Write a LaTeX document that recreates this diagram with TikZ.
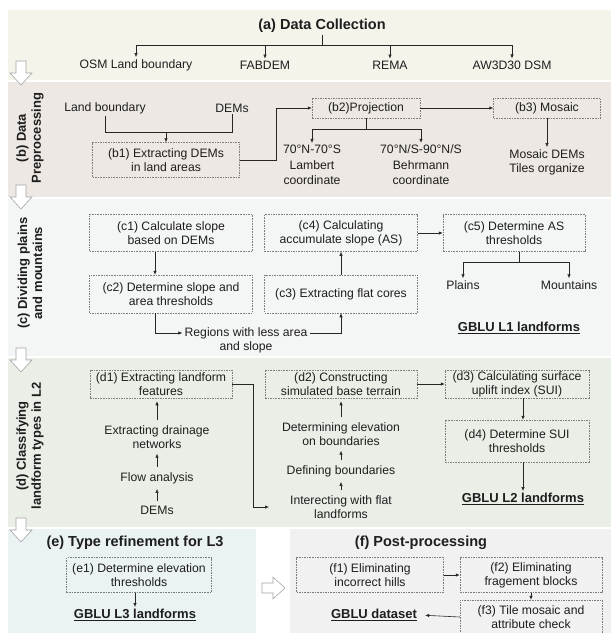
\documentclass[tikz,border=0pt]{standalone}
\usepackage{fontspec}
\setmainfont{Liberation Sans}
\usetikzlibrary{arrows.meta}
\definecolor{bandA}{RGB}{245,244,234}
\definecolor{bandB}{RGB}{237,232,227}
\definecolor{bandC}{RGB}{244,245,245}
\definecolor{bandD}{RGB}{233,239,231}
\definecolor{bandE}{RGB}{235,242,243}
\definecolor{bandF}{RGB}{241,241,241}
\definecolor{boxline}{RGB}{125,125,125}
\definecolor{txtc}{RGB}{30,30,30}
\definecolor{holl}{RGB}{165,165,165}
\newcommand\myfn{\fontsize{12.2}{14}\selectfont}
\newcommand\myft{\fontsize{14.5}{17}\selectfont\bfseries}
\newcommand\myfl{\fontsize{13}{15}\selectfont\bfseries}
\newcommand\myfg{\fontsize{13}{15}\selectfont\bfseries}
\tikzset{
  dbox/.style={draw=boxline, dash pattern=on 1.6pt off 1pt, line width=0.5pt, align=center, font=\myfn, text=txtc, inner sep=0pt},
  txt/.style={align=center, font=\myfn, text=txtc, inner sep=2pt},
  ttl/.style={align=center, font=\myft, text=txtc, inner sep=2pt},
  side/.style={align=center, font=\myfl, text=txtc, rotate=90, inner sep=0pt},
  gblu/.style={align=center, font=\myfg, text=txtc, inner sep=2pt},
  arr/.style={-{Latex[length=4pt,width=3.4pt]}, line width=0.6pt, draw=black!85},
  ln/.style={line width=0.6pt, draw=black!85},
  sarr/.style={arr, shorten <=3pt, shorten >=3pt},
  hol/.style={fill=white, draw=holl, line width=0.6pt, line join=miter}
}
\begin{document}
\begin{tikzpicture}[x=1pt,y=-1pt]
\useasboundingbox (0,0) rectangle (611,633);
\clip (0,0) rectangle (611,633);
% bands
\fill[bandA] (8,10) rectangle (611,80);
\fill[bandB] (8,82) rectangle (611,197);
\fill[bandC] (8,199) rectangle (611,356);
\fill[bandD] (8,358) rectangle (611,527);
\fill[bandE] (8,529) rectangle (256,633);
\fill[bandF] (290,529) rectangle (611,633);
% hollow arrows
\draw[hol] (16,61) -- (26,61) -- (26,73) -- (32,73) -- (21,85) -- (10,73) -- (16,73) -- cycle;
\draw[hol] (16,185) -- (26,185) -- (26,197) -- (32,197) -- (21,209) -- (10,197) -- (16,197) -- cycle;
\draw[hol] (16,348) -- (26,348) -- (26,360) -- (32,360) -- (21,372) -- (10,360) -- (16,360) -- cycle;
\draw[hol] (16,518) -- (26,518) -- (26,530) -- (32,530) -- (21,542) -- (10,530) -- (16,530) -- cycle;
\draw[hol] (262,583) -- (273,583) -- (273,577) -- (285,588) -- (273,599) -- (273,593) -- (262,593) -- cycle;

% (a)
\node[ttl] (ta) at (322,26) {(a) Data Collection};
\node[txt] (a1) at (136,65) {OSM Land boundary};
\node[txt] (a2) at (265,65) {FABDEM};
\node[txt] (a3) at (390,65) {REMA};
\node[txt] (a4) at (512,65) {AW3D30 DSM};
\coordinate (aj) at (322,45);
\draw[ln] (ta.south) -- (aj);
\draw[ln] (a1.north |- aj) -- (a4.north |- aj);
\foreach \n in {a1,a2,a3,a4} \draw[arr] (\n.north |- aj) -- (\n.north);

% (b)
\node[side] (lb) at (30,138) {(b) Data\\Preprocessing};
\node[txt] (lbd) at (105,108) {Land boundary};
\node[txt] (dem) at (232,108) {DEMs};
\node[dbox, minimum width=147, minimum height=35] (b1) at (166,160) {(b1) Extracting DEMs\\in land areas};
\node[dbox, minimum width=108, minimum height=20] (b2) at (366,108) {(b2)Projection};
\node[dbox, minimum width=107, minimum height=20] (b3) at (547,108) {(b3) Mosaic};
\coordinate (bj) at (166,132);
\draw[ln] (lbd.south) |- (dem.south |- bj) -- (dem.south);
\draw[arr] (bj) -- (b1.north);
\draw[arr] (b1.east) -- ++(37,0) |- (b2.west);
\draw[arr] (b2.east) -- (b3.west);
\node[txt, font=\fontsize{12.2}{15.5}\selectfont] (lam) at (312,165) {70°N-70°S\\Lambert\\coordinate};
\node[txt, font=\fontsize{12.2}{15.5}\selectfont] (beh) at (421,165) {70°N/S-90°N/S\\Behrmann\\coordinate};
\coordinate (bj2) at (366,129);
\draw[ln] (b2.south) -- (bj2);
\draw[ln] (lam.north |- bj2) -- (beh.north |- bj2);
\draw[arr] (lam.north |- bj2) -- (lam.north);
\draw[arr] (beh.north |- bj2) -- (beh.north);
\node[txt] (mos) at (547,162) {Mosaic DEMs\\Tiles organize};
\draw[arr] (b3.south) -- (b3.south |- mos.north);

% (c)
\node[side] (lc) at (30,273) {(c) Dividing plains\\and mountains};
\node[dbox, minimum width=163, minimum height=37] (c1) at (171,233) {(c1) Calculate slope\\based on DEMs};
\node[dbox, minimum width=163, minimum height=38] (c2) at (171,294) {(c2) Determine slope and\\area thresholds};
\node[dbox, minimum width=153, minimum height=38] (c3) at (341,294) {(c3) Extracting flat cores};
\node[dbox, minimum width=153, minimum height=37] (c4) at (341,233) {(c4) Calculating\\accumulate slope (AS)};
\node[dbox, minimum width=142, minimum height=37] (c5) at (514,233) {(c5) Determine AS\\thresholds};
\node[txt] (reg) at (246,340) {Regions with less area\\and slope};
\draw[arr] ([xshift=-16pt]c1.south) -- ([xshift=-16pt]c2.north);
\draw[arr] ([xshift=-16pt]c2.south) |- ([yshift=7pt]reg.west);
\draw[arr] ([yshift=7pt]reg.east) -| (c3.south);
\draw[arr] (c3.north) -- (c4.south);
\draw[arr] (c4.east) -- (c5.west);
\node[txt] (pl) at (463,285) {Plains};
\node[txt] (mt) at (569,285) {Mountains};
\coordinate (cj) at (519,262);
\draw[ln] (c5.south -| cj) -- (cj);
\draw[ln] (pl.north |- cj) -- (mt.north |- cj);
\draw[arr] (pl.north |- cj) -- (pl.north);
\draw[arr] (mt.north |- cj) -- (mt.north);
\node[gblu] (l1) at (519,328) {\underline{GBLU L1 landforms}};

% (d)
\node[side] (ld) at (30,446) {(d) Classifying\\landform types in L2};
\node[dbox, minimum width=142, minimum height=28] (d1) at (161,384) {(d1) Extracting landform\\features};
\node[dbox, minimum width=152, minimum height=28] (d2) at (341,384) {(d2) Constructing\\simulated base terrain};
\node[dbox, minimum width=144, minimum height=28] (d3) at (517,384) {(d3) Calculating surface\\uplift index (SUI)};
\node[dbox, minimum width=144, minimum height=42] (d4) at (517,441) {(d4) Determine SUI\\thresholds};
\node[txt] (dr) at (157,437) {Extracting drainage\\networks};
\node[txt] (fa) at (157,478) {Flow analysis};
\node[txt] (dm) at (157,510) {DEMs};
\draw[sarr] (dm.north) -- (fa.south);
\draw[sarr] (fa.north) -- (dr.south);
\draw[sarr] (dr.north) -- (d1.south -| dr.north);
\node[txt] (del) at (341,434) {Determining elevation\\on boundaries};
\node[txt] (dfb) at (341,471) {Defining boundaries};
\node[txt] (int) at (341,507) {Interecting with flat\\landforms};
\coordinate (intin) at (269,507);
\draw[sarr] (int.north) -- (dfb.south);
\draw[sarr] (dfb.north) -- (del.south);
\draw[sarr] (del.north) -- (d2.south);
\draw[arr] (d1.east) -- ++(21,0) |- (intin);
\draw[arr] (d2.east) -- (d3.west);
\node[gblu] (l2) at (523,499) {\underline{GBLU L2 landforms}};
\draw[arr] ([xshift=6pt]d3.south) -- ([xshift=6pt]d4.north);
\draw[arr] ([xshift=6pt]d4.south) -- (l2.north);

% (e)
\node[ttl] (te) at (135,543) {(e) Type refinement for L3};
\node[dbox, minimum width=145, minimum height=35] (e1) at (139,575) {(e1) Determine elevation\\thresholds};
\node[gblu] (l3) at (135,615) {\underline{GBLU L3 landforms}};
\draw[arr] (e1.south -| l3.north) -- (l3.north);

% (f)
\node[ttl] (tf) at (421,543) {(f) Post-processing};
\node[dbox, minimum width=147, minimum height=35] (f1) at (370,575) {(f1) Eliminating\\incorrect hills};
\node[dbox, minimum width=142, minimum height=35] (f2) at (531,575) {(f2) Eliminating\\fragement blocks};
\node[dbox, minimum width=142, minimum height=34] (f3) at (531,617) {(f3) Tile mosaic and\\attribute check};
\node[gblu] (gd) at (374,615) {\underline{GBLU dataset}};
\draw[arr] (f1.east) -- (f2.west);
\draw[arr] (f2.south) -- (f3.north);
\draw[arr, shorten >=6pt] (f3.west) -- (gd.east);
\end{tikzpicture}
\end{document}
